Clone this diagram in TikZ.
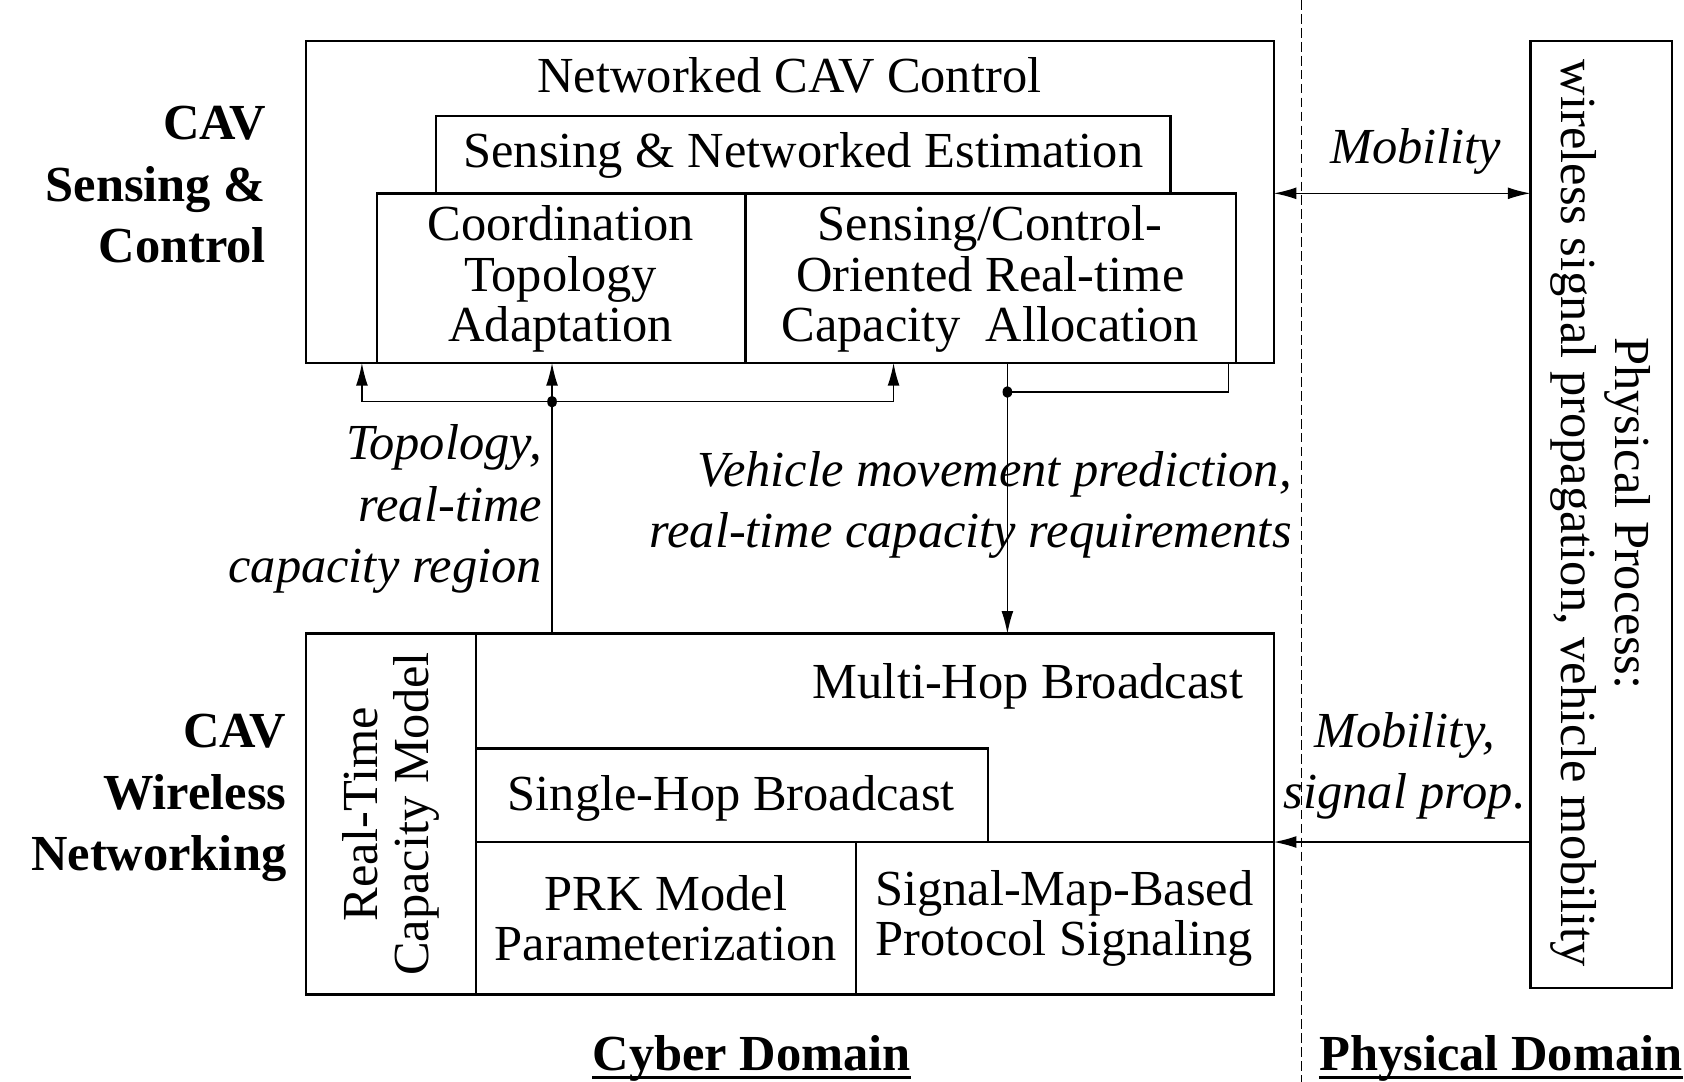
\documentclass[tikz,border=0pt]{standalone}
\usepackage{fontspec}
\setmainfont{Liberation Serif}
\usetikzlibrary{fit,arrows.meta,shapes.geometric}
\begin{document}
\begin{tikzpicture}[x=0.5pt,y=-0.5pt,
  box/.style={draw,line width=1.1pt,inner sep=0pt,outer sep=0pt,fit={#1}},
  body/.style={font=\fontsize{23.5}{23.5}\selectfont,align=center,inner sep=0pt},
  flow/.style={font=\itshape\fontsize{23.5}{28.5}\selectfont,inner sep=0pt},
  side/.style={font=\bfseries\fontsize{23.5}{28.5}\selectfont,align=right,inner sep=0pt},
  domname/.style={font=\bfseries\fontsize{23.5}{28}\selectfont,inner sep=0pt},
  link/.style={line width=0.6pt},
  head/.tip={Latex[length=10.5pt,width=5.5pt]},
  tip/.style={-head},
  dot/.style={ellipse,fill,inner sep=0pt,minimum width=4.5pt,minimum height=5.5pt},
]
\useasboundingbox (0,0) rectangle (1568,1007);

% ---- sensing & control layer ----
\node[box={(285,38)(1186,338)}] (ctrl) {};
\node[body] (ctrltitle) at (735,70) {Networked CAV Control};
\node[box={(406,108)(1090,180)}] (est) {};
\node[body] (esttext) at (748,145) {Sensing \& Networked Estimation};
\node[box={(351,180)(694,338)}] (coord) {};
\node[body] (coordtext) at (522,260) {Coordination\\Topology\\Adaptation};
\node[box={(694,180)(1151,338)}] (alloc) {};
\node[body] (alloctext) at (922,260) {Sensing/Control-\\Oriented Real-time\\Capacity\ \ Allocation};

% ---- wireless networking layer ----
\node[box={(285,590)(1186,926)}] (net) {};
\node[box={(285,590)(443,926)}] (rtcm) {};
\node[body,rotate=90,font=\fontsize{23.5}{24}\selectfont] (rtcmtext) at (rtcm.center) {Real-Time\\Capacity Model};
\node[body,anchor=east] (multi) at (1158,639) {Multi-Hop Broadcast};
\node[box={(443,697)(920,784)}] (single) {};
\node[body] (singletext) at (681,743) {Single-Hop Broadcast};
\node[box={(443,784)(797,926)}] (prk) {};
\node[body] (prktext) at (620,855) {PRK Model\\Parameterization};
\node[box={(797,784)(1186,926)}] (sigmap) {};
\node[body] (sigmaptext) at (991,855) {Signal-Map-Based\\Protocol Signaling};

% ---- physical process ----
\node[box={(1425,38)(1557,920)}] (phys) {};
\node[body,rotate=-90,font=\fontsize{23.5}{25}\selectfont] (phystext) at (1490,478) {Physical Process:\\wireless signal propagation, vehicle mobility};

% ---- cyber / physical divider ----
\coordinate (dtop) at (1212,0);
\coordinate (dbot) at (1212,1007);
\draw[line width=0.5pt,dash pattern=on 4.5pt off 2pt] (dtop) -- (dbot);

% ---- feedback from networking to control ----
\coordinate (j1) at (514,374);
\coordinate (a1) at (337,338);
\coordinate (a3) at (832,338);
\draw[link] (net.north -| j1) -- (j1);
\draw[link,tip] (j1) -| (a1);
\draw[link,tip] (j1) -- (j1 |- coord.south);
\draw[link,tip] (j1) -| (a3);
\node[dot] (j1dot) at (j1) {};

% ---- requirements from control to networking ----
\coordinate (j2) at (938,365);
\coordinate (a4) at (1144,338);
\draw[link] (alloc.south -| j2) -- (j2);
\draw[link,tip] (j2) -- (net.north -| j2);
\draw[link] (j2) -| (a4);
\node[dot] (j2dot) at (j2) {};

% ---- physical couplings ----
\draw[link,head-head] (ctrl.east |- alloc.north) -- (phys.west |- alloc.north);
\draw[link,tip] (phys.west |- sigmap.north) -- (net.east |- sigmap.north);

% ---- connector labels ----
\node[flow] (moblbl) at (1318,141) {Mobility};
\node[flow,align=center] (siglbl) at (1308,713) {Mobility,\\signal prop.};
\node[flow,align=right,anchor=east] (toplbl) at (505,474) {Topology,\\real-time\\capacity region};
\node[flow,align=right,anchor=east] (vehlbl) at (1203,470) {Vehicle movement prediction,\\real-time capacity requirements};

% ---- layer names ----
\node[side,anchor=east] (sclbl) at (248,172) {CAV\\Sensing \&\\Control};
\node[side,anchor=east] (wnlbl) at (267,743) {CAV\\Wireless\\Networking};

% ---- domain names ----
\node[domname,anchor=base] (cyber) at (700,997) {Cyber Domain};
\draw[line width=1.2pt] ([yshift=-3pt]cyber.base west) -- ([yshift=-3pt]cyber.base east);
\node[domname,anchor=base west] (physdom) at (1228,997) {Physical Domain};
\draw[line width=1.2pt] ([yshift=-3pt]physdom.base west) -- ([yshift=-3pt]physdom.base east);
\end{tikzpicture}
\end{document}
